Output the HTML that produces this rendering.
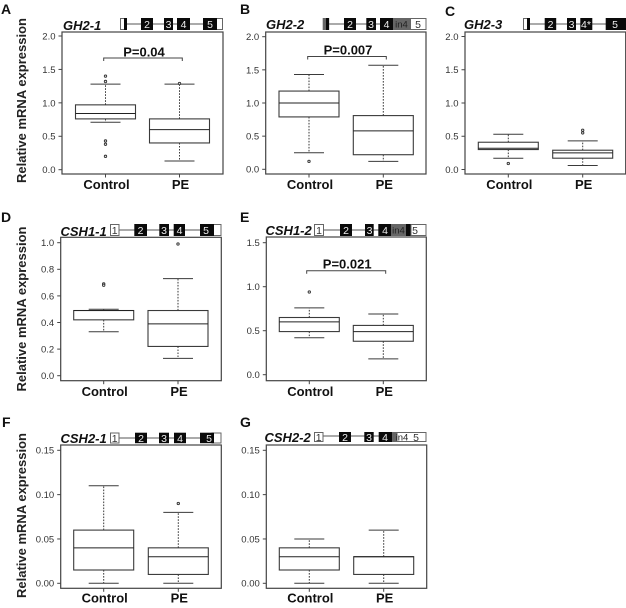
<!DOCTYPE html>
<html lang="en">
<head>
<meta charset="utf-8">
<title>mRNA expression box plots</title>
<style>
html,body{margin:0;padding:0;background:#fff;width:626px;height:608px;overflow:hidden}
svg{display:block;font-family:"Liberation Sans",Arial,sans-serif;filter:blur(0.3px)}
.letter{font-size:14px;font-weight:bold;fill:#111}
.gene{font-size:13px;font-weight:bold;font-style:italic;fill:#111}
.num{font-size:10.5px;fill:#eee;text-anchor:middle}
.numd{font-size:10.5px;fill:#333;text-anchor:middle}
.in{font-size:9.5px;fill:#222;text-anchor:middle}
.exon{fill:#0a0a0a}
.utr{fill:#fff;stroke:#666;stroke-width:1}
.dark{fill:#666}
.intron{stroke:#555;stroke-width:1}
</style>
</head>
<body>
<svg id="figure" width="626" height="608" viewBox="0 0 626 608" xmlns="http://www.w3.org/2000/svg">
  <text class="letter" x="1" y="14">A</text>
  <text class="letter" x="240" y="14">B</text>
  <text class="letter" x="445" y="16">C</text>
  <text class="letter" x="1" y="222">D</text>
  <text class="letter" x="240" y="222">E</text>
  <text class="letter" x="2" y="427">F</text>
  <text class="letter" x="240" y="427">G</text>

  <text class="gene" x="63" y="30">GH2-1</text>
  <text class="gene" x="266" y="29">GH2-2</text>
  <text class="gene" x="464" y="29">GH2-3</text>
  <text class="gene" x="60.5" y="236">CSH1-1</text>
  <text class="gene" x="265.5" y="235">CSH1-2</text>
  <text class="gene" x="60.5" y="443">CSH2-1</text>
  <text class="gene" x="264.5" y="442">CSH2-2</text>

  <g id="track-a">
    <line class="intron" x1="120" x2="217" y1="24" y2="24"/>
    <rect class="utr" x="120.5" y="18.5" width="6" height="11"/><rect class="exon" x="124" y="18" width="3" height="12"/>
    <rect class="exon" x="141" y="18" width="12" height="12"/><text class="num" x="147" y="27.8">2</text>
    <rect class="exon" x="164" y="18" width="9" height="12"/><text class="num" x="168.5" y="27.8">3</text>
    <rect class="exon" x="177" y="18" width="13" height="12"/><text class="num" x="183.5" y="27.8">4</text>
    <rect class="utr" x="212" y="18.5" width="10.5" height="11"/>
    <rect class="exon" x="203" y="18" width="14" height="12"/><text class="num" x="210" y="27.8">5</text>
  </g>
  <g id="track-b">
    <line class="intron" x1="323" x2="380" y1="24" y2="24"/>
    <rect class="dark" x="322.7" y="18" width="6.5" height="12"/><rect class="exon" x="326" y="18" width="3" height="12"/>
    <rect class="exon" x="344" y="18" width="12" height="12"/><text class="num" x="350" y="27.8">2</text>
    <rect class="exon" x="366.3" y="18" width="9.7" height="12"/><text class="num" x="371" y="27.8">3</text>
    <rect class="exon" x="380" y="18" width="13" height="12"/><text class="num" x="386.5" y="27.8">4</text>
    <rect class="dark" x="393" y="18" width="17" height="12"/><text class="in" x="401.5" y="27.5">in4</text>
    <rect class="utr" x="410.5" y="18.5" width="15.5" height="11"/><text class="numd" x="418" y="27.8">5</text>
  </g>
  <g id="track-c">
    <line class="intron" x1="523" x2="606" y1="24" y2="24"/>
    <rect class="utr" x="523.5" y="18.5" width="6" height="11"/><rect class="exon" x="527" y="18" width="3" height="12"/>
    <rect class="exon" x="544.7" y="18" width="11.5" height="12"/><text class="num" x="550.5" y="27.8">2</text>
    <rect class="exon" x="567" y="18" width="9" height="12"/><text class="num" x="571.5" y="27.8">3</text>
    <rect class="exon" x="580.3" y="18" width="12" height="12"/><text class="num" x="586" y="27.8">4*</text>
    <rect class="exon" x="605.7" y="18" width="20.3" height="12"/><text class="num" x="615" y="27.8">5</text>
  </g>
  <g id="track-d">
    <line class="intron" x1="119" x2="200" y1="230" y2="230"/>
    <rect class="utr" x="110.5" y="224.5" width="8.5" height="11"/><text class="numd" x="114.7" y="233.8">1</text>
    <rect class="exon" x="134.3" y="224" width="12.7" height="12"/><text class="num" x="140.5" y="233.8">2</text>
    <rect class="exon" x="159.3" y="224" width="9.7" height="12"/><text class="num" x="164" y="233.8">3</text>
    <rect class="exon" x="173.7" y="224" width="11.3" height="12"/><text class="num" x="179.5" y="233.8">4</text>
    <rect class="utr" x="212" y="224.5" width="9" height="11"/>
    <rect class="exon" x="200" y="224" width="14" height="12"/><text class="num" x="206" y="233.8">5</text>
  </g>
  <g id="track-e">
    <line class="intron" x1="323" x2="379" y1="230" y2="230"/>
    <rect class="utr" x="314.5" y="224.5" width="9" height="11"/><text class="numd" x="319" y="233.8">1</text>
    <rect class="exon" x="340" y="224" width="12" height="12"/><text class="num" x="346" y="233.8">2</text>
    <rect class="exon" x="365" y="224" width="8.7" height="12"/><text class="num" x="369.5" y="233.8">3</text>
    <rect class="exon" x="378.3" y="224" width="12.7" height="12"/><text class="num" x="385" y="233.8">4</text>
    <rect class="dark" x="391" y="224" width="15" height="12"/><text class="in" x="398.5" y="233.5">in4</text>
    <rect class="exon" x="406" y="224" width="5" height="12"/>
    <rect class="utr" x="411" y="224.5" width="15" height="11"/><text class="numd" x="415" y="233.8">5</text>
  </g>
  <g id="track-f">
    <line class="intron" x1="119" x2="200" y1="438" y2="438"/>
    <rect class="utr" x="110.5" y="433" width="8.5" height="10"/><text class="numd" x="114.7" y="441.8">1</text>
    <rect class="exon" x="135" y="432.7" width="12" height="10.5"/><text class="num" x="141" y="441.8">2</text>
    <rect class="exon" x="159" y="432.7" width="10" height="10.5"/><text class="num" x="164" y="441.8">3</text>
    <rect class="exon" x="174" y="432.7" width="12" height="10.5"/><text class="num" x="180" y="441.8">4</text>
    <rect class="utr" x="212" y="433" width="9" height="10"/>
    <rect class="exon" x="200" y="432.7" width="14" height="10.5"/><text class="num" x="209" y="441.8">5</text>
  </g>
  <g id="track-g">
    <line class="intron" x1="323" x2="379" y1="436" y2="436"/>
    <rect class="utr" x="314.5" y="432.5" width="8.5" height="9"/><text class="numd" x="318.7" y="440.8">1</text>
    <rect class="exon" x="339" y="432" width="12" height="10"/><text class="num" x="345" y="440.8">2</text>
    <rect class="exon" x="364.3" y="432" width="9.4" height="10"/><text class="num" x="369" y="440.8">3</text>
    <rect class="exon" x="378.7" y="432" width="13.3" height="10"/><text class="num" x="385" y="440.8">4</text>
    <rect class="dark" x="392" y="432" width="5" height="10"/>
    <rect class="utr" x="397" y="432.5" width="29" height="9"/><text class="in" x="402" y="440.5">in4</text><text class="numd" x="416" y="440.8">5</text>
  </g>
</svg>
<script>
const categories = ["Control", "PE"];

const ticksGH2 = ["0.0", "0.5", "1.0", "1.5", "2.0"];
const ticksCSH11 = ["0.0", "0.2", "0.4", "0.6", "0.8", "1.0"];
const ticksCSH12 = ["0.0", "0.5", "1.0", "1.5"];
const ticksCSH2 = ["0.00", "0.05", "0.10", "0.15"];

// Five-number summaries: low whisker, Q1, median, Q3, high whisker
const gh21Control = [0.71, 0.76, 0.84, 0.97, 1.28];
const gh21PE = [0.13, 0.40, 0.60, 0.76, 1.28];
const gh22Control = [0.25, 0.79, 1.00, 1.18, 1.43];
const gh22PE = [0.12, 0.22, 0.58, 0.81, 1.57];
const gh23Control = [0.17, 0.30, 0.32, 0.41, 0.53];
const gh23PE = [0.06, 0.17, 0.25, 0.29, 0.43];
const csh11Control = [0.33, 0.42, 0.49, 0.49, 0.50];
const csh11PE = [0.13, 0.22, 0.39, 0.49, 0.73];
const csh12Control = [0.42, 0.49, 0.60, 0.65, 0.76];
const csh12PE = [0.18, 0.38, 0.49, 0.56, 0.69];
const csh21Control = [0.00, 0.015, 0.04, 0.06, 0.11];
const csh21PE = [0.00, 0.01, 0.03, 0.04, 0.08];
const csh22Control = [0.00, 0.015, 0.03, 0.04, 0.05];
const csh22PE = [0.00, 0.01, 0.03, 0.03, 0.06];

const gh21ControlOutliers = [1.40, 1.32, 0.43, 0.38, 0.20];
const gh21PEOutliers = [1.29];
const gh22ControlOutliers = [0.12];
const gh22PEOutliers = [];
const gh23ControlOutliers = [0.09];
const gh23PEOutliers = [0.59, 0.55];
const csh11ControlOutliers = [0.69, 0.68];
const csh11PEOutliers = [0.99];
const csh12ControlOutliers = [0.94];
const csh12PEOutliers = [];
const csh21ControlOutliers = [];
const csh21PEOutliers = [0.09];
const csh22ControlOutliers = [];
const csh22PEOutliers = [];

const panels = [
  {frame:[62,32,223,174], tickRange:[169.7,36], centers:[105.5,179.5], labelGap:15.2, ticks:ticksGH2, stats:[gh21Control,gh21PE], out:[gh21ControlOutliers,gh21PEOutliers], p:{text:"P=0.04",y:56.5,bracketY:58,x1:103.7,x2:182.3}, title:100.5},
  {frame:[265.7,32,426,174], tickRange:[169.3,36.7], centers:[309,383.3], labelGap:15.2, ticks:ticksGH2, stats:[gh22Control,gh22PE], out:[gh22ControlOutliers,gh22PEOutliers], p:{text:"P=0.007",y:54.5,bracketY:56.5,x1:307.7,x2:386.3}},
  {frame:[465,32,625.7,174], tickRange:[169.5,36.5], centers:[508.3,582.7], labelGap:15.2, ticks:ticksGH2, stats:[gh23Control,gh23PE], out:[gh23ControlOutliers,gh23PEOutliers]},
  {frame:[60.7,237.3,221.3,380.7], tickRange:[375.7,242.7], centers:[103.7,178], labelGap:15.2, ticks:ticksCSH11, stats:[csh11Control,csh11PE], out:[csh11ControlOutliers,csh11PEOutliers], title:309},
  {frame:[266.3,237,426.3,380.7], tickRange:[374.7,242.7], centers:[309.3,383.3], labelGap:15.2, ticks:ticksCSH12, stats:[csh12Control,csh12PE], out:[csh12ControlOutliers,csh12PEOutliers], p:{text:"P=0.021",y:268.5,bracketY:270.7,x1:306.7,x2:385.7}},
  {frame:[60.7,445,221.3,588.3], tickRange:[583.3,450.3], centers:[103.7,178.3], labelGap:14, ticks:ticksCSH2, stats:[csh21Control,csh21PE], out:[csh21ControlOutliers,csh21PEOutliers], title:515.5},
  {frame:[266.3,445,426.7,588.3], tickRange:[583.3,450.3], centers:[309.3,383.7], labelGap:14, ticks:ticksCSH2, stats:[csh22Control,csh22PE], out:[csh22ControlOutliers,csh22PEOutliers]}
];

const NS = "http://www.w3.org/2000/svg";
const AXIS = "#444";
const INK = "#3a3a3a";
const figure = document.getElementById("figure");

function mk(tag, attrs, parent) {
  const el = document.createElementNS(NS, tag);
  for (const k in attrs) el.setAttribute(k, attrs[k]);
  parent.appendChild(el);
  return el;
}

function makeYScale(panel) {
  const lo = parseFloat(panel.ticks[0]);
  const hi = parseFloat(panel.ticks[panel.ticks.length - 1]);
  const r0 = panel.tickRange[0], r1 = panel.tickRange[1];
  return v => r0 + (v - lo) / (hi - lo) * (r1 - r0);
}

function drawBox(group, cx, s, outliers, y) {
  const low = s[0], q1 = s[1], med = s[2], q3 = s[3], high = s[4];
  let el;
  el = mk("line", {x1:cx,x2:cx,y1:y(q3),y2:y(high),stroke:INK,"stroke-width":1,"stroke-dasharray":"1.6 1.4"}, group);
  
  
  el = mk("line", {x1:cx,x2:cx,y1:y(q1),y2:y(low),stroke:INK,"stroke-width":1,"stroke-dasharray":"1.6 1.4"}, group);
  
  
  el = mk("line", {x1:cx-15,x2:cx+15,y1:y(high),y2:y(high),stroke:INK,"stroke-width":1}, group);
  
  
  el = mk("line", {x1:cx-15,x2:cx+15,y1:y(low),y2:y(low),stroke:INK,"stroke-width":1}, group);
  
  
  el = mk("rect", {x:cx-30,y:y(q3),width:60,height:y(q1)-y(q3),fill:"#fff",stroke:INK,"stroke-width":1.1}, group);
  
  
  el = mk("line", {x1:cx-30,x2:cx+30,y1:y(med),y2:y(med),stroke:"#222","stroke-width":1}, group);
  
  
  outliers.forEach(v => {
    const dot = mk("circle", {cx:cx,cy:y(v),r:1.2,fill:"#ddd",stroke:"#333","stroke-width":0.9}, group);
    
    
  });
}

panels.forEach(panel => {
  const y = makeYScale(panel);
  const left = panel.frame[0], top = panel.frame[1], right = panel.frame[2], bottom = panel.frame[3];
  const g = mk("g", {}, figure);
  
  

  const frame = mk("rect", {x:left,y:top,width:right-left,height:bottom-top,fill:"none",stroke:AXIS,"stroke-width":1.2}, g);
  
  

  panel.ticks.forEach(label => {
    const ty = y(parseFloat(label));
    const mark = mk("line", {x1:left-3.5,x2:left,y1:ty,y2:ty,stroke:AXIS,"stroke-width":1}, g);
    
    
    const t = mk("text", {x:left-6.5,y:ty+3.4,"text-anchor":"end","font-size":9.5,fill:"#333"}, g);
    t.textContent = label;
    
    
  });

  categories.forEach((name, i) => {
    const cx = panel.centers[i];
    const mark = mk("line", {x1:cx,x2:cx,y1:bottom,y2:bottom+3.5,stroke:AXIS,"stroke-width":1}, g);
    
    
    const t = mk("text", {x:cx+1,y:bottom+panel.labelGap,"text-anchor":"middle","font-size":13,"font-weight":"bold",fill:"#111"}, g);
    t.textContent = name;
    
    
    drawBox(g, cx, panel.stats[i], panel.out[i], y);
  });

  if (panel.p) {
    const b = panel.p;
    const br = mk("path", {d:"M"+b.x1+" "+(b.bracketY+3)+"V"+b.bracketY+"H"+b.x2+"V"+(b.bracketY+3),fill:"none",stroke:"#444","stroke-width":1}, g);
    
    
    const t = mk("text", {x:(b.x1+b.x2)/2+1,y:b.y,"text-anchor":"middle","font-size":13,"font-weight":"bold",fill:"#111"}, g);
    t.textContent = b.text;
    
    
  }

  if (panel.title) {
    const t = mk("text", {transform:"translate(26 "+panel.title+") rotate(-90)","text-anchor":"middle","font-size":13,"font-weight":"bold",fill:"#222"}, g);
    t.textContent = "Relative mRNA expression";
    
    
  }
});
</script>
</body>
</html>
